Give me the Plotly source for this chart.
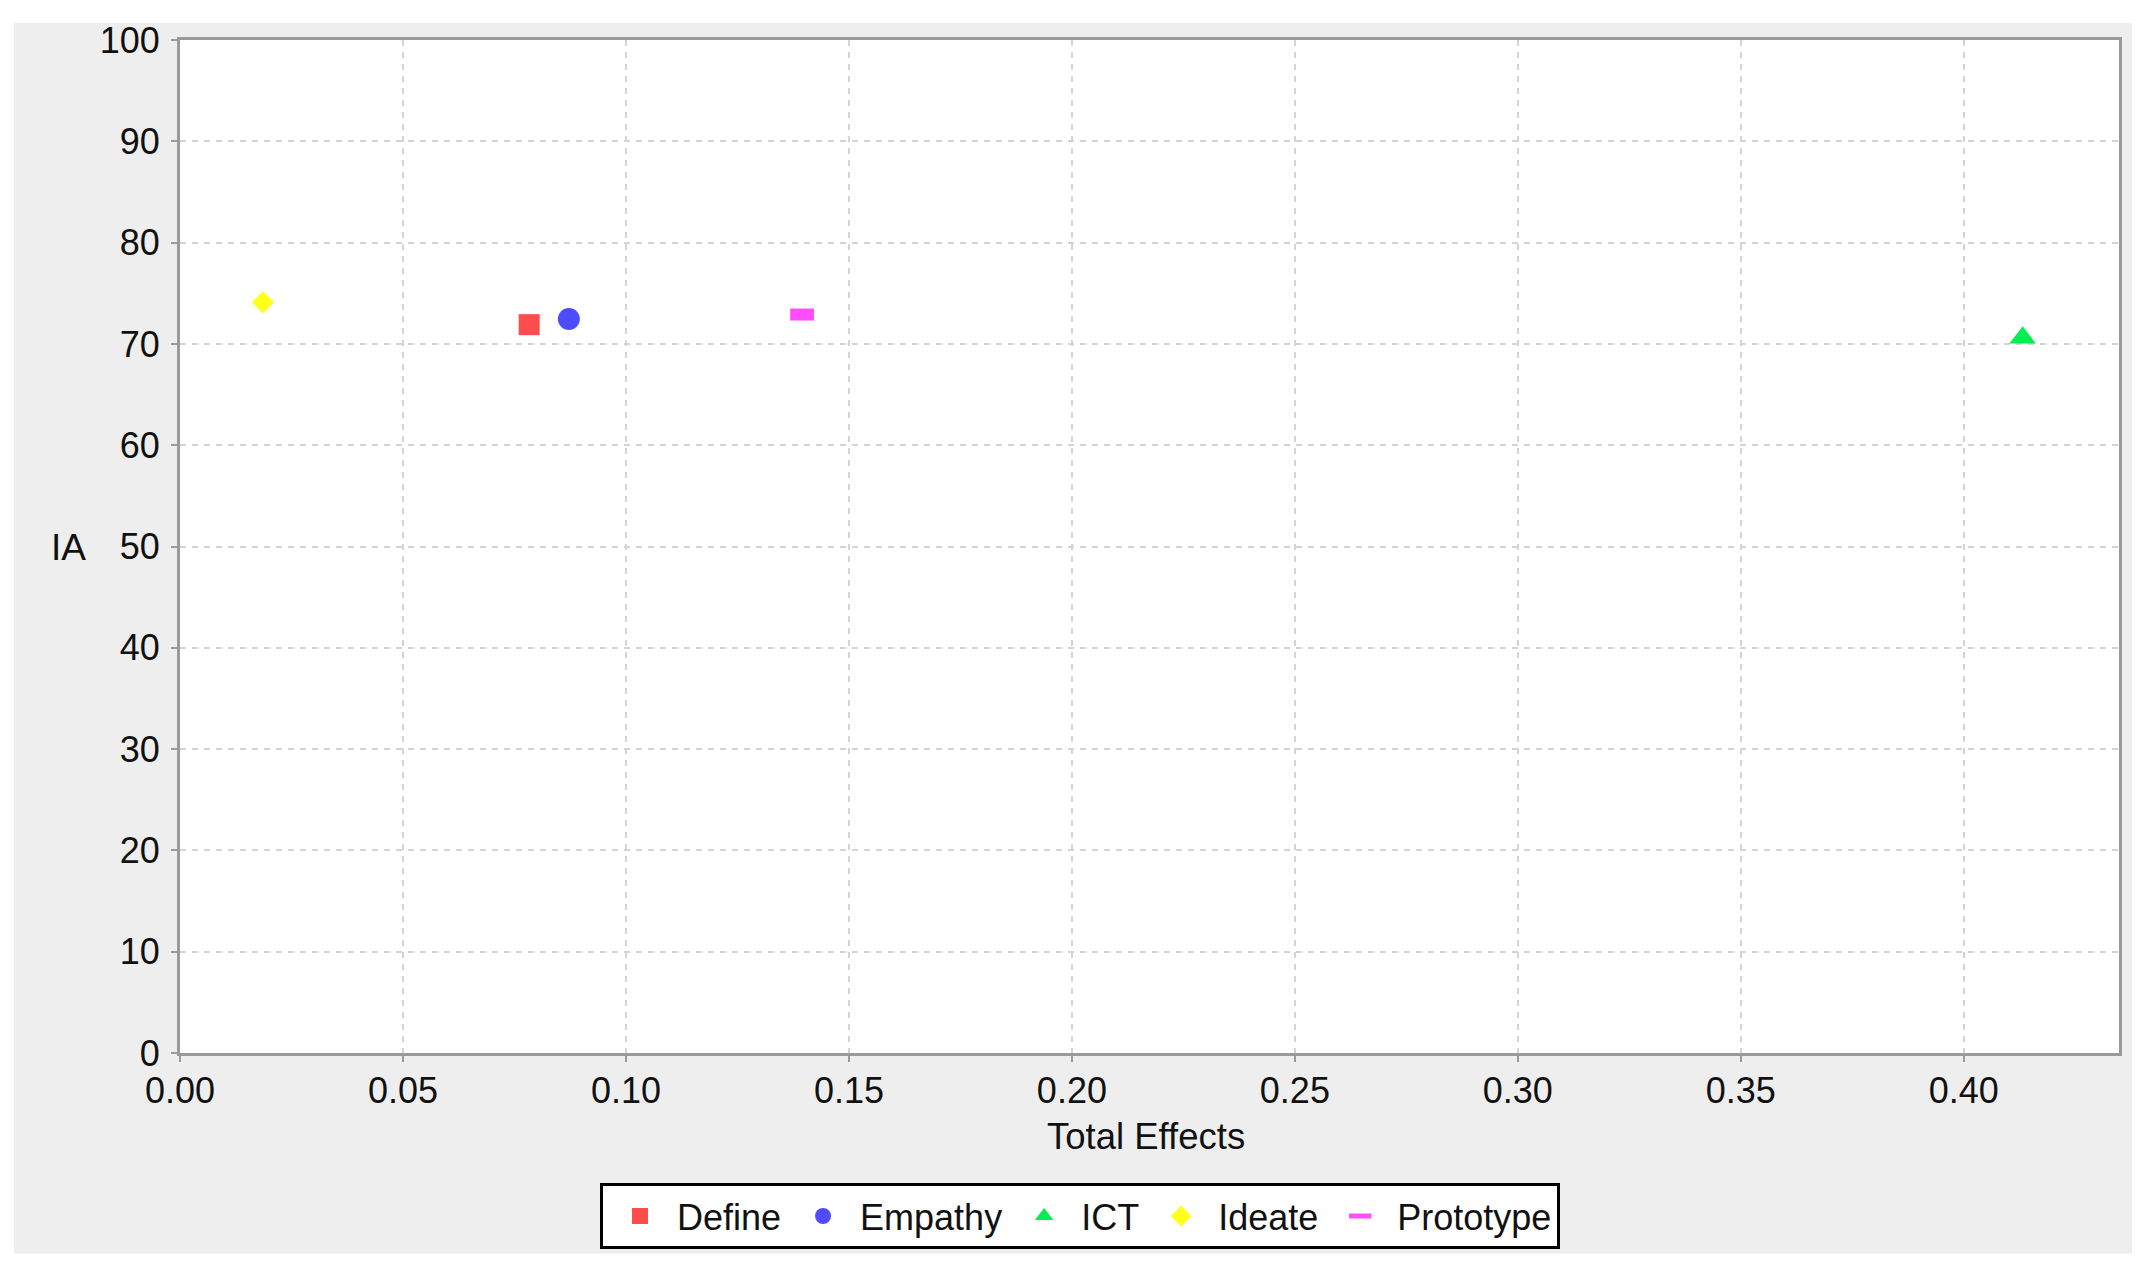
import plotly.graph_objects as go

# ---- data ----
series_names = ["Define", "Empathy", "ICT", "Ideate", "Prototype"]
total_effects = [0.0783, 0.0872, 0.4132, 0.0186, 0.1395]
ia_values = [71.9, 72.45, 70.6, 74.1, 72.9]

x_ticks = [0.00, 0.05, 0.10, 0.15, 0.20, 0.25, 0.30, 0.35, 0.40]
y_ticks = [0, 10, 20, 30, 40, 50, 60, 70, 80, 90, 100]

# ---- styles ----
colors = ["#FF4D4D", "#4D4DFF", "#00F050", "#FFFF1A", "#FF4DFF"]
symbols = ["square", "circle", "triangle-up", "diamond", "line-ew"]
sizes = [21, 22, 23, 17, 17]
line_widths = [0, 0, 0, 0, 12]

FONT = "Liberation Sans, Arial, sans-serif"
TXT = "#111111"

fig = go.Figure()
for name, xv, yv, c, s, sz, lw in zip(series_names, total_effects, ia_values,
                                       colors, symbols, sizes, line_widths):
    fig.add_trace(go.Scatter(
        x=[xv], y=[yv], mode="markers", name=name,
        marker=dict(color=c, symbol=s, size=sz,
                    line=dict(color=c, width=lw)),
    ))

# page body has an 8px margin; compensate so screenshot matches
OFF = 8
W, H = 2149 - OFF, 1271 - OFF
L, R, T, B = 180 - OFF, 30, 33 - OFF, 218
pw = W - L - R
ph = H - T - B

def px_x(p):
    return (p - OFF - L) / pw

def px_y(p):
    return (H - B - (p - OFF)) / ph

axis_common = dict(
    showline=True, linecolor="#9a9a9a", linewidth=3, mirror=True,
    ticks="outside", ticklen=6, tickwidth=2, tickcolor="#9a9a9a",
    showgrid=True, gridcolor="#d4d4d4", gridwidth=1.5, griddash="6px,6px",
    zeroline=False,
    tickfont=dict(family=FONT, size=36, color=TXT),
)

fig.update_layout(
    width=W, height=H,
    margin=dict(l=L, r=R, t=T, b=B),
    paper_bgcolor="white",
    plot_bgcolor="white",
    font=dict(family=FONT, size=35, color=TXT),
    xaxis=dict(range=[0, 0.4348], tickvals=x_ticks,
               ticktext=[f"{v:.2f}" for v in x_ticks],
               ticklabelstandoff=-2, **axis_common),
    yaxis=dict(range=[0, 100], tickvals=y_ticks,
               ticktext=[str(v) for v in y_ticks],
               ticklabelstandoff=4, **axis_common),
    showlegend=True,
    legend=dict(
        orientation="h",
        x=px_x(1080), xanchor="center",
        y=px_y(1184), yanchor="top",
        bgcolor="white", bordercolor="black", borderwidth=3,
        font=dict(family=FONT, size=36, color=TXT),
        itemwidth=64,
    ),
    shapes=[
        dict(type="rect", xref="paper", yref="paper",
             x0=px_x(14), x1=px_x(2132), y0=px_y(1255), y1=px_y(16),
             fillcolor="#EEEEEE", line=dict(width=0), layer="below"),
        dict(type="rect", xref="paper", yref="paper",
             x0=0, x1=1, y0=0, y1=1,
             fillcolor="white", line=dict(width=0), layer="below"),
    ],
    annotations=[
        dict(text="IA", xref="paper", yref="paper",
             x=px_x(68), y=px_y(544), xanchor="center", yanchor="middle",
             showarrow=False, font=dict(family=FONT, size=37, color=TXT)),
        dict(text="Total Effects", xref="paper", yref="paper",
             x=px_x(1146), y=px_y(1137), xanchor="center", yanchor="middle",
             showarrow=False, font=dict(family=FONT, size=36.5, color=TXT)),
    ],
)

fig.write_html("out.html")
